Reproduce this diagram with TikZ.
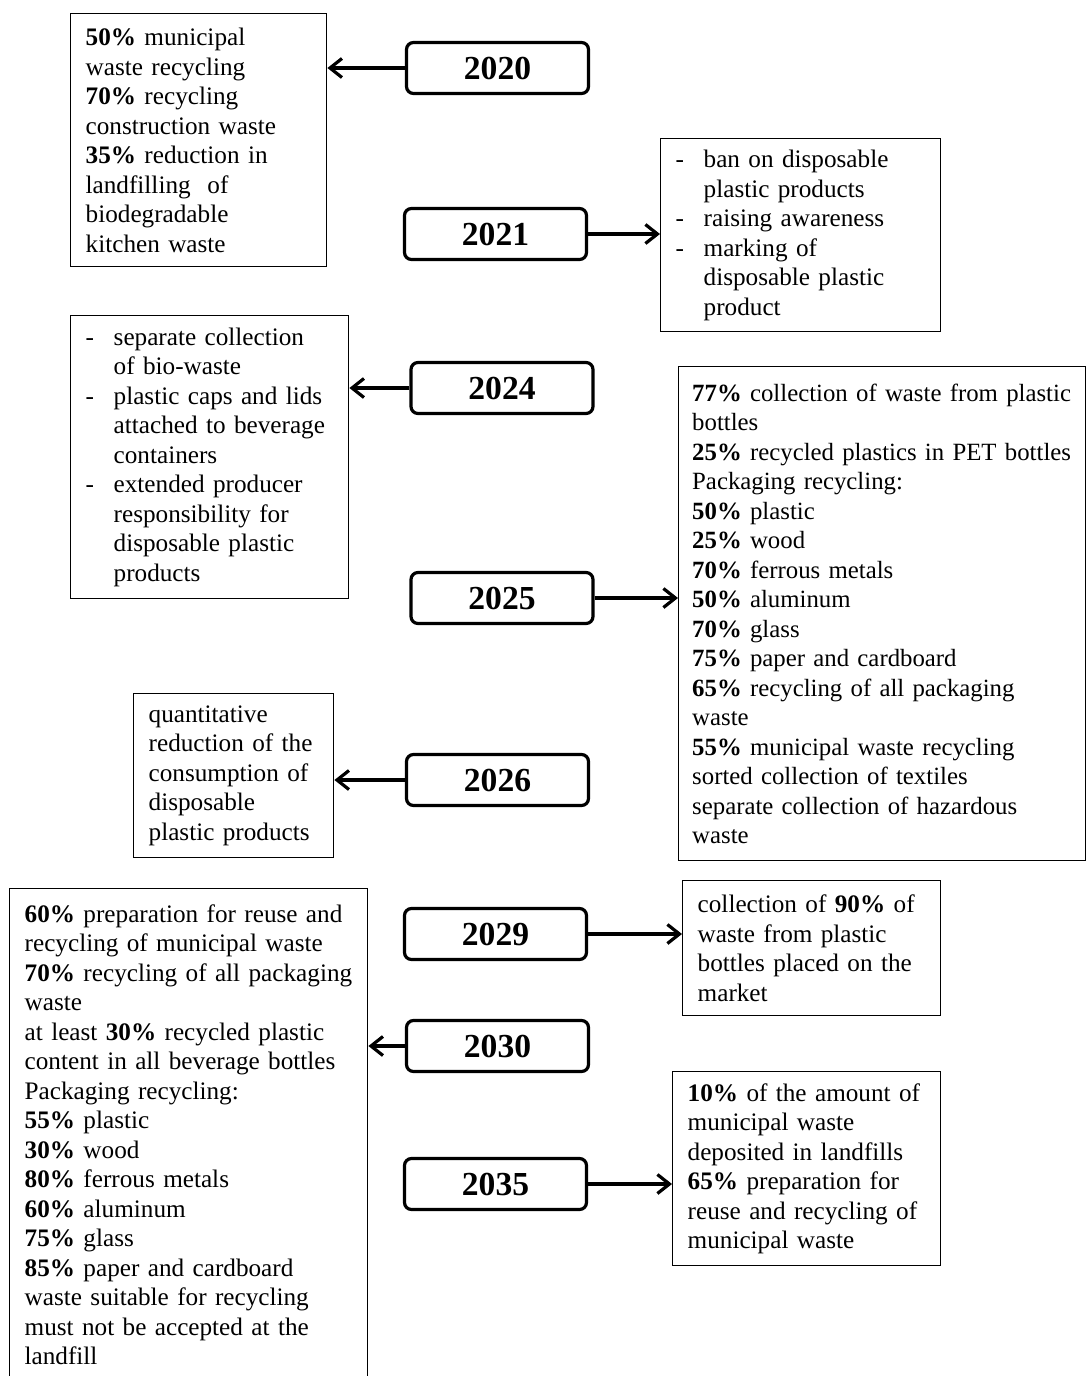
\documentclass[tikz,border=0pt]{standalone}
\usepackage{fontspec}
\setmainfont{Liberation Serif}
\usetikzlibrary{arrows.meta}

\newcommand{\itm}{\makebox[14pt][l]{-}}
\newcommand{\ind}{\hspace*{14pt}}

\begin{document}
\begin{tikzpicture}[x=0.5pt, y=-0.5pt,
        year/.style={draw, rounded corners=3.5pt, line width=1.6pt, minimum width=91pt, minimum height=25.5pt, inner sep=0pt, font=\fontsize{16.8}{20}\selectfont\bfseries},
        txt/.style={draw, line width=0.7pt, anchor=north west, align=left, inner xsep=7.5pt, inner ysep=0pt, font=\fontsize{12.6}{14.75}\selectfont},
        arr/.style={line width=1.6pt, -{Straight Barb[length=6pt, width=9.5pt]}}]
        \useasboundingbox (0,0) rectangle (1086,1376);

        \node[year] (y2020) at (497.5,68) {2020};
        \node[year] (y2021) at (495.5,234) {2021};
        \node[year] (y2024) at (502,388) {2024};
        \node[year] (y2025) at (502,598) {2025};
        \node[year] (y2026) at (497.5,780) {2026};
        \node[year] (y2029) at (495.5,934) {2029};
        \node[year] (y2030) at (497.5,1046) {2030};
        \node[year] (y2035) at (495.5,1184) {2035};

        \node[txt, text width=113pt, minimum height=126.5pt] (t2020) at (70,13) {\textbf{50\%} municipal\\ waste recycling\\ \textbf{70\%} recycling\\ construction waste\\ \textbf{35\%} reduction in\\ landfilling \ of\\ biodegradable\\ kitchen waste};
        \node[txt, text width=125pt, minimum height=96.5pt] (t2021) at (660,138) {\itm ban on disposable\\ \ind plastic products\\ \itm raising awareness\\ \itm marking of\\ \ind disposable plastic\\ \ind product};
        \node[txt, text width=124pt, minimum height=141.5pt] (t2024) at (70,315) {\itm separate collection\\ \ind of bio-waste\\ \itm plastic caps and lids\\ \ind attached to beverage\\ \ind containers\\ \itm extended producer\\ \ind responsibility for\\ \ind disposable plastic\\ \ind products};
        \node[txt, text width=190pt, inner xsep=6.75pt, minimum height=247pt, font=\fontsize{12.4}{14.75}\selectfont] (t2025) at (678,366) {\textbf{77\%} collection of waste from plastic\\ bottles\\ \textbf{25\%} recycled plastics in PET bottles\\ Packaging recycling:\\ \textbf{50\%} plastic\\ \textbf{25\%} wood\\ \textbf{70\%} ferrous metals\\ \textbf{50\%} aluminum\\ \textbf{70\%} glass\\ \textbf{75\%} paper and cardboard\\ \textbf{65\%} recycling of all packaging\\ waste\\ \textbf{55\%} municipal waste recycling\\ sorted collection of textiles\\ separate collection of hazardous\\ waste};
        \node[txt, text width=85pt, minimum height=82pt] (t2026) at (133,693) {quantitative\\ reduction of the\\ consumption of\\ disposable\\ plastic products};
        \node[txt, text width=114pt, minimum height=67.5pt] (t2029) at (682,880) {collection of \textbf{90\%} of\\ waste from plastic\\ bottles placed on the\\ market};
        \node[txt, text width=164pt, minimum height=246pt] (t2030) at (9,888) {\textbf{60\%} preparation for reuse and\\ recycling of municipal waste\\ \textbf{70\%} recycling of all packaging\\ waste\\ at least \textbf{30\%} recycled plastic\\ content in all beverage bottles\\ Packaging recycling:\\ \textbf{55\%} plastic\\ \textbf{30\%} wood\\ \textbf{80\%} ferrous metals\\ \textbf{60\%} aluminum\\ \textbf{75\%} glass\\ \textbf{85\%} paper and cardboard\\ waste suitable for recycling\\ must not be accepted at the\\ landfill};
        \node[txt, text width=119pt, minimum height=97pt] (t2035) at (672,1071) {\textbf{10\%} of the amount of\\ municipal waste\\ deposited in landfills\\ \textbf{65\%} preparation for\\ reuse and recycling of\\ municipal waste};

        %% arrows to the left
        \draw[arr] (y2020.west) -- (y2020.west -| t2020.east);
        \draw[arr] (y2024.west) -- (y2024.west -| t2024.east);
        \draw[arr] (y2026.west) -- (y2026.west -| t2026.east);
        \draw[arr] (y2030.west) -- (y2030.west -| t2030.east);
        %% arrows to the right
        \draw[arr] (y2021.east) -- (y2021.east -| t2021.west);
        \draw[arr] (y2025.east) -- (y2025.east -| t2025.west);
        \draw[arr] (y2029.east) -- (y2029.east -| t2029.west);
        \draw[arr] (y2035.east) -- (y2035.east -| t2035.west);
    \end{tikzpicture}
\end{document}
